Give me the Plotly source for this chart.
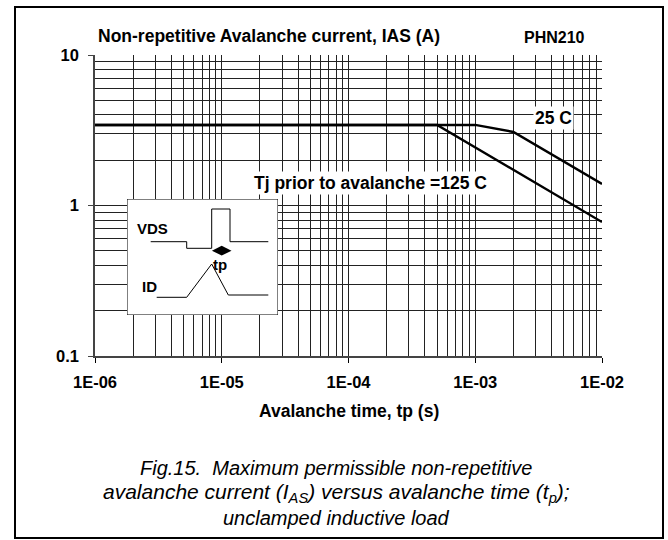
import plotly.graph_objects as go

# ---- data ----
tp_125 = [1e-6, 5e-4, 1e-2]
ias_125 = [3.43, 3.43, 0.776]
tp_25 = [1e-6, 1e-3, 2e-3, 1e-2]
ias_25 = [3.43, 3.43, 3.08, 1.39]

x_tick_vals = [1e-6, 1e-5, 1e-4, 1e-3, 1e-2]
x_tick_text = ["1E-06", "1E-05", "1E-04", "1E-03", "1E-02"]
y_tick_vals = [0.1, 1, 10]
y_tick_text = ["0.1", "1", "10"]

# inset schematic (inset units)
inset_box_x = [0, 151, 151, 0, 0]
inset_box_y = [0, 0, 116, 116, 0]
vds_t = [23.7, 59.7, 59.7, 84.7, 84.7, 103, 103, 141.3]
vds_v = [73.3, 73.3, 66.7, 66.7, 106, 106, 73.3, 73.3]
id_t = [29.7, 59.7, 84.7, 101.3, 141.3]
id_v = [17.7, 17.7, 51, 20, 20]
tp_marker_t = [94.7]
tp_marker_v = [64.3]

FONT = "Liberation Sans, Arial, sans-serif"

x_minor = [d * 10 ** e for e in range(-6, -2) for d in range(2, 10)]
y_minor = [d * 10 ** e for e in range(-1, 1) for d in range(2, 10)]

fig = go.Figure()
fig.add_trace(go.Scatter(x=tp_125, y=ias_125, mode="lines",
                         line=dict(color="black", width=2.4), showlegend=False))
fig.add_trace(go.Scatter(x=tp_25, y=ias_25, mode="lines",
                         line=dict(color="black", width=2.4), showlegend=False))

# inset
fig.add_trace(go.Scatter(x=inset_box_x, y=inset_box_y, mode="lines", fill="toself",
                         fillcolor="white", line=dict(color="black", width=1),
                         xaxis="x2", yaxis="y2", showlegend=False))
fig.add_trace(go.Scatter(x=vds_t, y=vds_v, mode="lines", line=dict(color="black", width=1),
                         xaxis="x2", yaxis="y2", showlegend=False))
fig.add_trace(go.Scatter(x=id_t, y=id_v, mode="lines", line=dict(color="black", width=1),
                         xaxis="x2", yaxis="y2", showlegend=False))
fig.add_trace(go.Scatter(x=tp_marker_t, y=tp_marker_v, mode="markers",
                         marker=dict(symbol="diamond-wide", size=14, color="black"),
                         xaxis="x2", yaxis="y2", showlegend=False))

W, H = 668, 540
L, T = 95, 55
R = 668 - 602
B = 540 - 356
pw, ph = W - L - R, H - T - B


def px(x):
    return (x - L) / pw


def py(y):
    return (H - B - y) / ph


fig.update_layout(
    width=W, height=H, autosize=False,
    margin=dict(l=L, r=R, t=T, b=B),
    paper_bgcolor="white", plot_bgcolor="white",
    font=dict(family=FONT, color="black"),
    xaxis=dict(type="log", range=[-6, -2], tickvals=x_tick_vals, ticktext=x_tick_text,
               tickfont=dict(size=16.5, weight="bold"), ticks="outside", ticklen=5,
               tickcolor="black", showgrid=True, gridcolor="#222", gridwidth=1,
               showline=True, linecolor="#444", linewidth=1.5, mirror=False,
               ticklabelstandoff=5,
               minor=dict(tickvals=x_minor, showgrid=True, gridcolor="#222", gridwidth=1, ticks=""),
               zeroline=False),
    yaxis=dict(type="log", range=[-1, 1], tickvals=y_tick_vals, ticktext=y_tick_text,
               tickfont=dict(size=16.5, weight="bold"), ticks="outside", ticklen=5,
               tickcolor="#444", showgrid=True, gridcolor="#222", gridwidth=1,
               showline=True, linecolor="#444", linewidth=1.5, ticklabelstandoff=6,
               minor=dict(tickvals=y_minor, showgrid=True, gridcolor="#222", gridwidth=1, ticks=""),
               zeroline=False),
    xaxis2=dict(domain=[px(127), px(278)], range=[0, 151], anchor="y2", visible=False,
                fixedrange=True),
    yaxis2=dict(domain=[py(315), py(199)], range=[0, 116], anchor="x2", visible=False,
                fixedrange=True),
)


def note(text, x, y, size, bold=True, **kw):
    f = dict(size=size)
    if bold:
        f["weight"] = "bold"
    d = dict(text=text, xref="paper", yref="paper", x=px(x), y=py(y),
             xanchor="center", yanchor="middle", showarrow=False, font=f)
    d.update(kw)
    return d


ann = []
ann.append(note("Non-repetitive Avalanche current, IAS (A)", 96, 36, 17.5, xanchor="left"))
ann.append(note("PHN210", 554, 37, 16))
ann.append(dict(text="25 C", xref="x", yref="y", x=-2.38, y=0.58, showarrow=False,
                xanchor="center", yanchor="middle",
                bgcolor="white", font=dict(size=17.5, weight="bold")))
ann.append(dict(text="Tj prior to avalanche =125 C", xref="x", yref="y", x=-3.83, y=0.1495,
                xanchor="center", yanchor="middle",
                showarrow=False, bgcolor="white", font=dict(size=17.5, weight="bold")))
ann.append(note("Avalanche time, tp (s)", 349, 411, 17.5))
# inset labels
for txt, xx, yy in [("VDS", 25, 87), ("ID", 22, 29), ("tp", 93, 50.5)]:
    ann.append(dict(text=txt, xref="x2", yref="y2", x=xx, y=yy, showarrow=False,
                    xanchor="center", yanchor="middle", font=dict(size=15, weight="bold")))
# caption
caption = ["<i>Fig.15.  Maximum permissible non-repetitive</i>",
           "<i>avalanche current (I<sub>AS</sub>) versus avalanche time (t<sub>p</sub>);</i>",
           "<i>unclamped inductive load</i>"]
caption_sizes = [20, 21, 20]
for line, yy, fs in zip(caption, [468, 493, 518], caption_sizes):
    ann.append(note(line, 336, yy, fs, bold=False))
fig.update_layout(annotations=ann)

fig.add_shape(type="rect", xref="paper", yref="paper",
              x0=px(15), x1=px(663), y0=py(538), y1=py(7),
              line=dict(color="black", width=2), fillcolor="rgba(0,0,0,0)", layer="above")

fig.write_html("out.html", config={"displayModeBar": False},
               post_script="document.body.style.margin='0';document.body.style.overflow='hidden';")
